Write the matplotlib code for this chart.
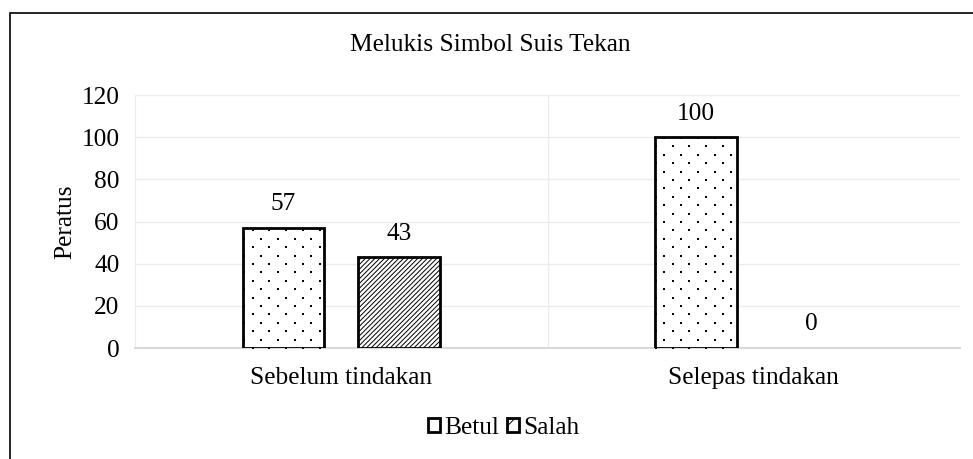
import matplotlib
matplotlib.use("Agg")
import matplotlib.pyplot as plt
import numpy as np
from matplotlib.patches import Patch, Rectangle
from matplotlib.transforms import IdentityTransform

categories = ["Sebelum tindakan", "Selepas tindakan"]
betul = [57, 100]
salah = [43, 0]
yticks = [0, 20, 40, 60, 80, 100, 120]

plt.rcParams['font.family'] = ['Liberation Serif', 'DejaVu Serif']
plt.rcParams['hatch.linewidth'] = 0.7

FS = 18.3
fig = plt.figure(figsize=(9.73, 4.59), dpi=100)
ax = fig.add_axes([0.1387, 0.2418, 0.848, 0.5512])

x = np.arange(len(categories))
w = 0.197
off = 0.14
b1 = ax.bar(x - off, betul, w, color='white', edgecolor='black', linewidth=2, zorder=3)
b2 = ax.bar(x + off, salah, w, color='white', edgecolor='black', linewidth=2, hatch='///////', zorder=3)
for bar, v in zip(b2, salah):
    if v == 0:
        bar.set_linewidth(0)
        bar.set_hatch(None)

for bars, vals in ((b1, betul), (b2, salah)):
    for bar, v in zip(bars, vals):
        ax.text(bar.get_x() + bar.get_width() / 2, v + 6, str(v), ha='center', va='bottom', fontsize=FS)

ax.set_xlim(-0.5, 1.5)
ax.set_ylim(0, 120)
ax.set_yticks(yticks)
ax.set_yticklabels([str(t) for t in yticks], fontsize=FS)
ax.set_xticks(x)
ax.set_xticklabels(categories, fontsize=FS)
ax.tick_params(length=0, pad=11)
ax.tick_params(axis='x', pad=14)
ax.grid(axis='y', color='#ececec', linewidth=1, zorder=0)
ax.axvline(0.5, color='#ececec', linewidth=1, zorder=0)
for s in ['top', 'right']:
    ax.spines[s].set_visible(False)
ax.spines['left'].set_color('#ececec')
ax.spines['bottom'].set_color('#d9d9d9')
ax.spines['bottom'].set_linewidth(1.5)
ax.set_ylabel('Peratus', fontsize=FS, labelpad=4)

# fine dot texture clipped to the "Betul" bars
fig.canvas.draw()
bb = ax.get_window_extent()
step = 16.8
rows = np.arange(bb.y0, bb.y1 + step, step / 2)
pts = []
for i, yy in enumerate(rows):
    xs = np.arange(bb.x0 + (step / 2 if i % 2 else 0), bb.x1 + step, step)
    pts.extend((xx, yy) for xx in xs)
pts = np.array(pts)
for bar in b1:
    sc = ax.scatter(pts[:, 0], pts[:, 1], s=2.2, color='black', marker='s', linewidths=0,
                    transform=IdentityTransform(), zorder=3.5)
    sc.set_clip_path(bar)

fig.text(0.504, 0.902, 'Melukis Simbol Suis Tekan', ha='center', va='center', fontsize=FS)

handles = [Patch(facecolor='white', edgecolor='black', linewidth=2, label='Betul'),
           Patch(facecolor='white', edgecolor='black', linewidth=2, hatch='//', label='Salah')]
fig.legend(handles=handles, loc='center', bbox_to_anchor=(0.5175, 0.068), ncol=2, frameon=False,
           fontsize=FS, handlelength=0.5, handleheight=0.5, handletextpad=0.15, columnspacing=0.3)

fig.patches.append(Rectangle((10 / 973, -0.1), 1.2, (459 - 13) / 459 + 0.1, transform=fig.transFigure,
                             fill=False, edgecolor='black', linewidth=1.2))

fig.savefig('out.png', dpi=100)
